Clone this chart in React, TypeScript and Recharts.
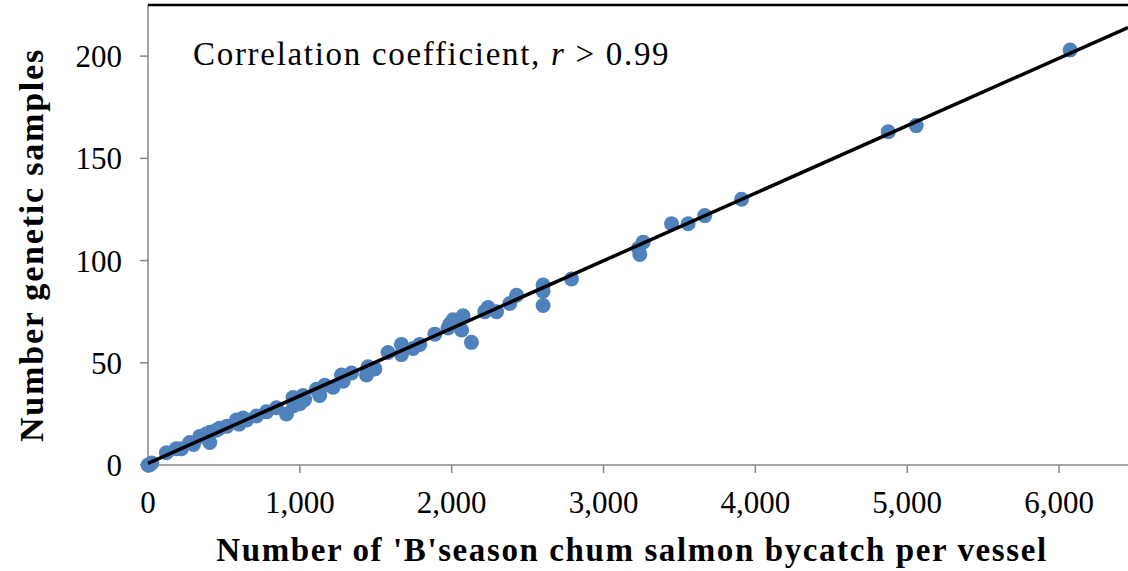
import { Scatter, ScatterChart, XAxis, YAxis, Label } from 'recharts';

// bycatch per vessel vs. number of genetic samples
const bycatch = [
  0, 10, 25, 121, 187, 220, 275, 300, 341, 380, 407, 407, 450, 472, 520, 582, 600, 626, 650, 714,
  780, 846, 912, 955, 960, 1000, 1021, 1032, 1109, 1131, 1164, 1219, 1274, 1285, 1340, 1439, 1449,
  1494, 1581, 1669, 1669, 1746, 1790, 1889, 1976, 1988, 2009, 2065, 2075, 2130, 2218, 2240, 2295,
  2383, 2427, 2602, 2602, 2602, 2789, 3230, 3239, 3261, 3448, 3557, 3667, 3909, 4875, 5059, 6073,
];
const samples = [
  0, 0, 1, 6, 8, 8, 11, 10, 14, 15, 16, 11, 17, 18, 19, 22, 20, 23, 22, 24,
  26, 28, 25, 33, 29, 30, 34, 32, 37, 34, 39, 38, 44, 41, 45, 44, 48,
  47, 55, 59, 54, 57, 59, 64, 67, 69, 71, 66, 73, 60, 75, 77, 75,
  79, 83, 88, 85, 78, 91, 106, 103, 109, 118, 118, 122, 130, 163, 166, 203,
];

// fitted line endpoints
const trendX = [0, 6454];
const trendY = [0.8, 214];

const xMax = 6454;
const yMax = 225;
const xTicks = [0, 1000, 2000, 3000, 4000, 5000, 6000];
const yTicks = [0, 50, 100, 150, 200];

const points = bycatch.map((x, i) => ({ x, y: samples[i] }));
const trend = trendX.map((x, i) => ({ x, y: trendY[i] }));
// top frame of the plot area
const frameTop = [
  { x: 0, y: yMax },
  { x: xMax, y: yMax },
];

const FONT = '"Liberation Serif", "Times New Roman", serif';
const axisGray = '#868686';

const Dot = (props: any) => <circle cx={props.cx} cy={props.cy} r={7.5} fill='#4F81BD' />;
const NoDot = () => <g />;

const YTitle = (props: any) => {
  const vb = props.viewBox;
  const x = vb.x + 43;
  const y = vb.y + vb.height / 2 + 10;
  return (
    <text
      x={x}
      y={y}
      transform={`rotate(-90 ${x} ${y})`}
      textAnchor='middle'
      fontFamily={FONT}
      fontWeight='bold'
      fontSize={34}
      letterSpacing={1.8}
      fill='#000'>
      Number genetic samples
    </text>
  );
};

const App = () => {
  return (
    <div style={{ position: 'fixed', left: 0, top: 0, width: 1128, height: 571, background: '#fff' }}>
      <ScatterChart width={1128} height={571} margin={{ top: 5, right: 0, bottom: 0, left: 0 }}>
        <XAxis
          type='number'
          dataKey='x'
          domain={[0, xMax]}
          ticks={xTicks}
          tickFormatter={(v: number) => v.toLocaleString('en-US')}
          height={106}
          tickSize={8}
          tickMargin={18}
          stroke={axisGray}
          strokeWidth={1.5}
          tick={{ fill: '#000', fontSize: 31, fontFamily: FONT }}>
          <Label
            value="Number of 'B'season chum salmon bycatch per vessel"
            position='insideBottom'
            offset={10}
            dx={-6}
            style={{
              fontFamily: FONT,
              fontWeight: 'bold',
              fontSize: 33,
              letterSpacing: 1.6,
              fill: '#000',
            }}
          />
        </XAxis>
        <YAxis
          type='number'
          dataKey='y'
          domain={[0, yMax]}
          ticks={yTicks}
          width={148}
          tickSize={8}
          tickMargin={18}
          stroke={axisGray}
          strokeWidth={1.5}
          tick={{ fill: '#000', fontSize: 31, fontFamily: FONT }}>
          <Label content={<YTitle />} />
        </YAxis>
        <Scatter
          data={frameTop}
          shape={<NoDot />}
          line={{ stroke: '#000', strokeWidth: 2.5 }}
          isAnimationActive={false}
        />
        <Scatter data={points} shape={<Dot />} isAnimationActive={false} />
        <Scatter
          data={trend}
          shape={<NoDot />}
          line={{ stroke: '#000', strokeWidth: 3.5 }}
          isAnimationActive={false}
        />
      </ScatterChart>
      <svg
        width={700}
        height={80}
        style={{ position: 'absolute', left: 193, top: 20, pointerEvents: 'none' }}>
        <text x={0} y={45} fontFamily={FONT} fontSize={33} letterSpacing={1.7} fill='#000'>
          Correlation coefficient, <tspan fontStyle='italic'>r</tspan> &gt; 0.99
        </text>
      </svg>
    </div>
  );
};

export default App;
